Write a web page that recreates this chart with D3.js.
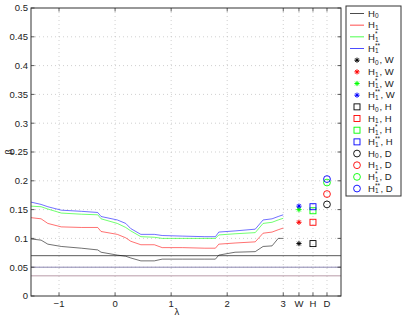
<!DOCTYPE html>
<html>
<head>
<meta charset="utf-8">
<script src="https://cdn.jsdelivr.net/npm/d3@7"></script>
<style>
  body { margin: 0; background: #fff; }
  text { font-family: "Liberation Sans", Arial, sans-serif; fill: #222; }
</style>
</head>
<body>
<script>
// lambda grid for the curves
const lambdas = [-1.5, -1.32, -1.2, -0.96, -0.6, -0.31, -0.25, 0.04, 0.19, 0.28, 0.46, 0.7, 0.84, 1.2, 1.6, 1.79, 1.85, 2.14, 2.5, 2.64, 2.8, 2.91, 3.0];

// beta curves
const betaH0 = [0.099, 0.097, 0.090, 0.086, 0.083, 0.080, 0.076, 0.071, 0.069, 0.066, 0.061, 0.061, 0.064, 0.064, 0.064, 0.064, 0.071, 0.076, 0.077, 0.086, 0.087, 0.100, 0.100];
const betaH1 = [0.136, 0.134, 0.126, 0.120, 0.119, 0.119, 0.112, 0.107, 0.101, 0.095, 0.089, 0.089, 0.084, 0.084, 0.083, 0.083, 0.090, 0.092, 0.094, 0.109, 0.111, 0.115, 0.118];
const betaH1s = [0.156, 0.155, 0.151, 0.144, 0.142, 0.141, 0.134, 0.126, 0.119, 0.113, 0.103, 0.102, 0.100, 0.100, 0.100, 0.100, 0.106, 0.108, 0.110, 0.126, 0.128, 0.132, 0.135];
const betaH1ss = [0.163, 0.159, 0.155, 0.149, 0.147, 0.145, 0.138, 0.132, 0.126, 0.117, 0.107, 0.107, 0.105, 0.104, 0.103, 0.103, 0.111, 0.113, 0.116, 0.132, 0.134, 0.138, 0.141];

// tests at the right
const testNames = ["W", "H", "D"];
const testPos = [3.28, 3.53, 3.78];
const testW = [0.091, 0.128, 0.150, 0.156];
const testH = [0.091, 0.128, 0.148, 0.155];
const testD = [0.159, 0.177, 0.197, 0.203];

// reference levels
const hLevels = [0.07, 0.05, 0.035];
const hColors = ["#5a5a5a", "#8a86b0", "#b89aa8"];

// series labels
const subs = ["0", "1", "1", "1"];
const sups = ["", "", "*", "**"];
const colors = ["#000000", "#ff0000", "#00ff00", "#0000ff"];
const markers = ["star", "square", "circle"];

const xTicks = [-1, 0, 1, 2, 3];
const yTicks = d3.range(0, 0.5001, 0.05);

let width = 404, height = 318;
let mLeft = 31, mRight = 341, mTop = 8, mBottom = 296;

let svg = d3.select('body').append('svg')
    .attr('width', width)
    .attr('height', height);

let x = d3.scaleLinear().domain([-1.5, 4.03]).range([mLeft, mRight]);
let y = d3.scaleLinear().domain([0, 0.5]).range([mBottom, mTop]);

//grid
let allX = xTicks.concat(testPos);
svg.append('g').selectAll('line')
    .data(allX).enter().append('line')
    .attr('x1', d => x(d)).attr('x2', d => x(d))
    .attr('y1', mTop).attr('y2', mBottom)
    .attr('stroke', '#bbb').attr('stroke-width', 0.7)
    .attr('stroke-dasharray', '1,3');
svg.append('g').selectAll('line')
    .data(yTicks.slice(1, -1)).enter().append('line')
    .attr('x1', mLeft).attr('x2', mRight)
    .attr('y1', d => y(d)).attr('y2', d => y(d))
    .attr('stroke', '#bbb').attr('stroke-width', 0.7)
    .attr('stroke-dasharray', '1,3');

//reference levels
svg.append('g').selectAll('line')
    .data(hLevels).enter().append('line')
    .attr('x1', mLeft).attr('x2', mRight)
    .attr('y1', d => y(d)).attr('y2', d => y(d))
    .attr('stroke', (d, i) => hColors[i]).attr('stroke-width', 1);

//curves
let series = [betaH0, betaH1, betaH1s, betaH1ss];
let line = d3.line().x((d, i) => x(lambdas[i])).y(d => y(d));
svg.append('g').selectAll('path')
    .data(series).enter().append('path')
    .attr('d', d => line(d))
    .attr('fill', 'none')
    .attr('stroke', (d, i) => colors[i])
    .attr('stroke-width', 0.8)
    .attr('stroke-opacity', 0.7);

//marker drawing
const starPath = (r) => `M${-r},0L${r},0M0,${-r}L0,${r}M${-r*0.7},${-r*0.7}L${r*0.7},${r*0.7}M${-r*0.7},${r*0.7}L${r*0.7},${-r*0.7}`;
function drawMarker(g, type, cx, cy, color) {
    if (type === 'star') {
        g.append('path').attr('d', starPath(2.6))
            .attr('transform', `translate(${cx},${cy})`)
            .attr('stroke', color).attr('stroke-width', 1).attr('fill', 'none');
    } else if (type === 'square') {
        g.append('rect').attr('x', cx - 3).attr('y', cy - 3)
            .attr('width', 6).attr('height', 6)
            .attr('stroke', color).attr('stroke-width', 0.9).attr('fill', 'none');
    } else {
        g.append('circle').attr('cx', cx).attr('cy', cy).attr('r', 3.4)
            .attr('stroke', color).attr('stroke-width', 0.9).attr('fill', 'none');
    }
}

let tests = [testW, testH, testD];
let pts = svg.append('g');
tests.forEach((vals, t) => {
    vals.forEach((v, i) => drawMarker(pts, markers[t], x(testPos[t]), y(v), colors[i]));
});

//frame
svg.append('rect')
    .attr('x', mLeft).attr('y', mTop)
    .attr('width', mRight - mLeft).attr('height', mBottom - mTop)
    .attr('fill', 'none').attr('stroke', '#333').attr('stroke-width', 1);

//ticks
let tk = svg.append('g').attr('stroke', '#333').attr('stroke-width', 0.8);
allX.forEach(d => {
    tk.append('line').attr('x1', x(d)).attr('x2', x(d)).attr('y1', mBottom).attr('y2', mBottom - 3.5);
    tk.append('line').attr('x1', x(d)).attr('x2', x(d)).attr('y1', mTop).attr('y2', mTop + 3.5);
});
yTicks.forEach(d => {
    tk.append('line').attr('x1', mLeft).attr('x2', mLeft + 3.5).attr('y1', y(d)).attr('y2', y(d));
    tk.append('line').attr('x1', mRight).attr('x2', mRight - 3.5).attr('y1', y(d)).attr('y2', y(d));
});

//tick labels
let fmtY = d => d3.format('.2~f')(d);
svg.append('g').selectAll('text')
    .data(yTicks).enter().append('text')
    .attr('x', mLeft - 3).attr('y', d => y(d) + 3.3)
    .attr('text-anchor', 'end').attr('font-size', 9.5)
    .text(d => fmtY(d));
svg.append('g').selectAll('text')
    .data(xTicks).enter().append('text')
    .attr('x', d => x(d)).attr('y', mBottom + 11)
    .attr('text-anchor', 'middle').attr('font-size', 9.5)
    .text(d => d < 0 ? '\u2212' + Math.abs(d) : d);
svg.append('g').selectAll('text')
    .data(testNames).enter().append('text')
    .attr('x', (d, i) => x(testPos[i])).attr('y', mBottom + 11)
    .attr('text-anchor', 'middle').attr('font-size', 9.5)
    .text(d => d);

//axis labels
svg.append('text').attr('x', x(1.1)).attr('y', mBottom + 19)
    .attr('text-anchor', 'middle').attr('font-size', 9.5).text('λ');
svg.append('text')
    .attr('transform', `translate(12, ${y(0.25)}) rotate(-90)`)
    .attr('text-anchor', 'middle').attr('font-size', 9.5).text('β');

//legend
let lgX = 346, lgY = 6, lgW = 55, lgH = 190, rowH = 11.67;
let legend = svg.append('g');
legend.append('rect')
    .attr('x', lgX).attr('y', lgY).attr('width', lgW).attr('height', lgH)
    .attr('fill', '#fff').attr('stroke', '#333').attr('stroke-width', 1);

let entries = [];
for (let i = 0; i < 4; i++) entries.push({ c: i, kind: 'line', suffix: '' });
for (let t = 0; t < 3; t++)
    for (let i = 0; i < 4; i++) entries.push({ c: i, kind: markers[t], suffix: ', ' + testNames[t] });

entries.forEach((e, k) => {
    let cy = lgY + 7.5 + k * rowH;
    if (e.kind === 'line') {
        legend.append('line').attr('x1', lgX + 4).attr('x2', lgX + 18)
            .attr('y1', cy).attr('y2', cy)
            .attr('stroke', colors[e.c]).attr('stroke-width', 1).attr('stroke-opacity', 0.7);
    } else {
        drawMarker(legend, e.kind, lgX + 11, cy, colors[e.c]);
    }
    // one text element per entry: H, subscript, superscript, suffix
    let tx = lgX + 22, sx = tx + 7;
    let t = legend.append('text').attr('x', tx).attr('y', cy + 3).attr('font-size', 9.5);
    t.append('tspan').text('H');
    t.append('tspan').attr('x', sx).attr('dy', 1.8).attr('font-size', 6.5).text(subs[e.c]);
    let supW = 0, back = -1.8;
    if (sups[e.c]) {
        let st = t.append('tspan').attr('x', sx).attr('dy', -5.6).attr('font-size', 6.5).text(sups[e.c]);
        supW = st.node().getComputedTextLength();
        back = 3.8;
    }
    if (e.suffix) {
        t.append('tspan').attr('x', sx + Math.max(4, supW) + 0.5).attr('dy', back).text(e.suffix);
    }
});
</script>
</body>
</html>
